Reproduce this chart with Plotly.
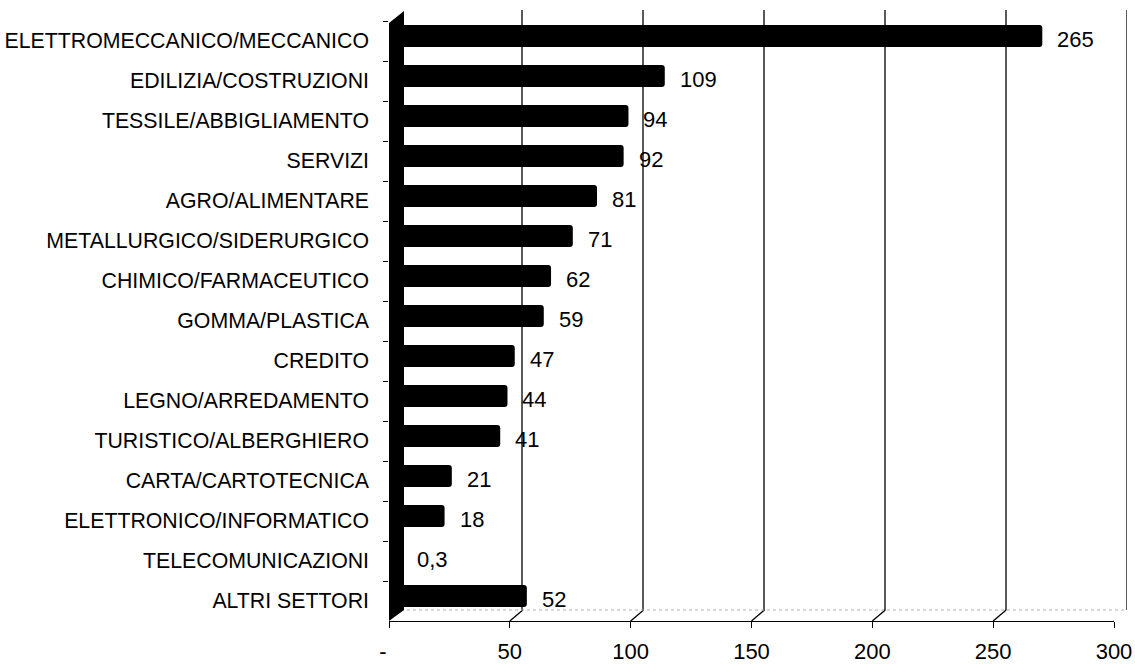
import plotly.graph_objects as go

# Sector counts, top to bottom
categories = [
    "ELETTROMECCANICO/MECCANICO",
    "EDILIZIA/COSTRUZIONI",
    "TESSILE/ABBIGLIAMENTO",
    "SERVIZI",
    "AGRO/ALIMENTARE",
    "METALLURGICO/SIDERURGICO",
    "CHIMICO/FARMACEUTICO",
    "GOMMA/PLASTICA",
    "CREDITO",
    "LEGNO/ARREDAMENTO",
    "TURISTICO/ALBERGHIERO",
    "CARTA/CARTOTECNICA",
    "ELETTRONICO/INFORMATICO",
    "TELECOMUNICAZIONI",
    "ALTRI SETTORI",
]
values = [265, 109, 94, 92, 81, 71, 62, 59, 47, 44, 41, 21, 18, 0.3, 52]
tick_values = [0, 50, 100, 150, 200, 250, 300]
# accounting-style zero: the dash sits left of its tick
tick_labels = ["-\u00a0\u00a0", "50", "100", "150", "200", "250", "300"]

W, H = 1135, 666
FONT = "Liberation Sans, Arial, sans-serif"


def fx(p):
    return p / W


def fy(p):
    return 1 - p / H


def fmt(v):
    return f"{v:g}".replace(".", ",")


# 3D depth offset between the front floor edge and the back wall
DX, DY = 13, 11

fig = go.Figure()

# bars sit on the back plane
fig.add_trace(go.Bar(
    x=values, y=categories, orientation="h",
    marker=dict(color="#000000", line=dict(width=0), cornerradius=3),
    width=0.55, xaxis="x", yaxis="y", hoverinfo="skip",
))

# invisible companion trace that drives the front-plane axes
fig.add_trace(go.Scatter(
    x=values, y=categories, mode="markers",
    marker=dict(opacity=0), xaxis="x2", yaxis="y2", hoverinfo="skip",
    showlegend=False,
))

shapes = []
# back-wall gridlines and their floor diagonals
for v in tick_values[1:]:
    shapes.append(dict(type="line", xref="x", yref="paper",
                       x0=v, x1=v, y0=fy(610), y1=fy(10),
                       line=dict(color="#000000", width=1.3)))
    shapes.append(dict(type="line", xref="x2", yref="paper",
                       xsizemode="pixel", ysizemode="pixel",
                       xanchor=v, yanchor=fy(621),
                       x0=0, x1=DX, y0=0, y1=DY,
                       line=dict(color="#000000", width=1.3)))

# faint back edge of the floor
shapes.append(dict(type="line", xref="x", yref="paper",
                   x0=0, x1=300, y0=fy(610), y1=fy(610),
                   line=dict(color="#b0b0b0", width=1, dash="dot")))

# dark side wall at zero
shapes.append(dict(type="path", xref="paper", yref="paper",
                   path=(f"M {fx(389)} {fy(23)} L {fx(404)} {fy(11)} "
                         f"L {fx(404)} {fy(610)} L {fx(389)} {fy(621)} Z"),
                   fillcolor="#000000", line=dict(width=0), layer="above"))

annotations = []
for c, v in zip(categories, values):
    annotations.append(dict(
        x=v, y=c, xref="x", yref="y", text=fmt(v), showarrow=False,
        xanchor="left", yanchor="middle", xshift=13, yshift=-3,
        font=dict(family=FONT, size=22, color="#000000"),
    ))

fig.update_layout(
    width=W, height=H,
    margin=dict(l=0, r=0, t=0, b=0, pad=0, autoexpand=False),
    paper_bgcolor="#ffffff", plot_bgcolor="rgba(0,0,0,0)",
    showlegend=False,
    bargap=0.45,
    shapes=shapes,
    annotations=annotations,
    xaxis=dict(domain=[fx(401), fx(1127)], range=[0, 300], automargin=False,
               showgrid=False, zeroline=False, showticklabels=False,
               showline=False, ticks="", anchor="y"),
    yaxis=dict(domain=[fy(616), fy(16)], type="category", automargin=False,
               categoryorder="array", categoryarray=categories,
               range=[len(categories) - 0.5, -0.5],
               showgrid=False, zeroline=False, showticklabels=False,
               showline=False, ticks="", anchor="x"),
    xaxis2=dict(domain=[fx(389), fx(1114)], range=[0, 300], automargin=False,
                anchor="y2", tickmode="array", tickvals=tick_values,
                ticktext=tick_labels, ticks="outside", ticklen=6,
                tickcolor="#000000", tickwidth=1.3, ticklabelstandoff=4,
                showline=True, linecolor="#000000", linewidth=1.3,
                showgrid=False, zeroline=False,
                tickfont=dict(family=FONT, size=22, color="#000000")),
    yaxis2=dict(domain=[fy(621), fy(21)], type="category", automargin=False,
                categoryorder="array", categoryarray=categories,
                range=[len(categories) - 0.5, -0.5],
                anchor="x2", tickson="boundaries", ticks="outside",
                ticklen=5, tickcolor="#000000", tickwidth=1,
                ticklabelstandoff=19,
                showline=False, showgrid=False, zeroline=False,
                tickfont=dict(family=FONT, size=21.3, color="#000000")),
)

fig.write_html("out.html")
